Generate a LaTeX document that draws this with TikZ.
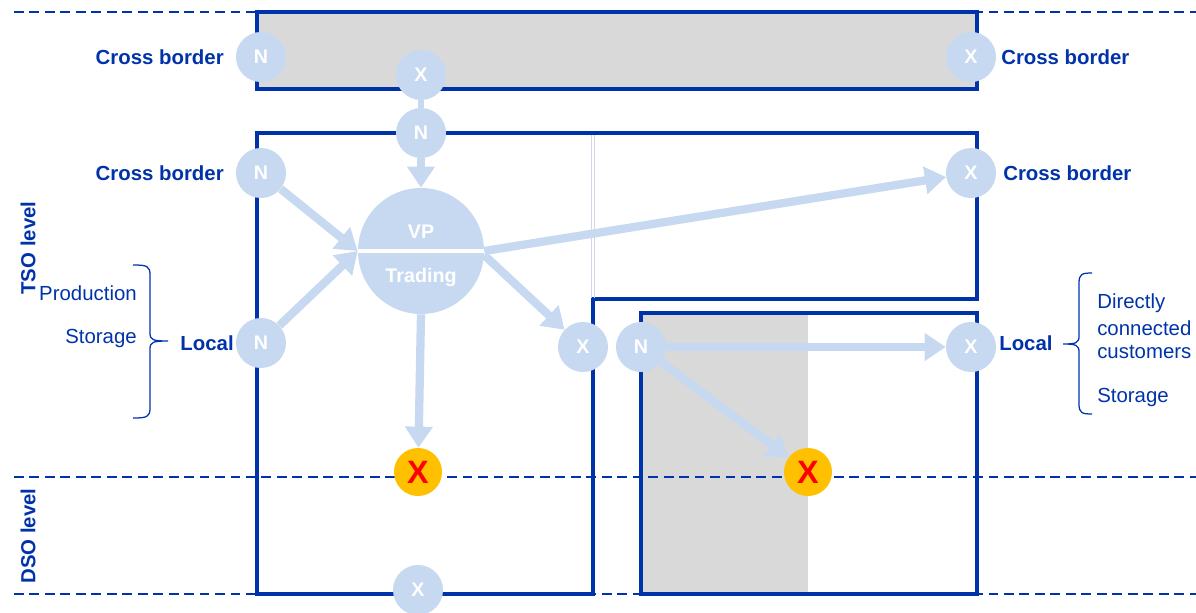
\documentclass[tikz,border=0pt]{standalone}
\usepackage{fontspec}
\setmainfont{Liberation Sans}
\usetikzlibrary{arrows.meta}
\definecolor{navy}{RGB}{0,51,170}
\definecolor{pale}{RGB}{198,217,240}
\definecolor{panel}{RGB}{217,217,217}
\definecolor{amber}{RGB}{255,192,0}
\definecolor{faint}{RGB}{205,214,236}
\begin{document}
\begin{tikzpicture}[x=0.025cm,y=-0.025cm,
  bubble/.style={circle, fill=pale, minimum size=1.25cm, inner sep=0pt, text=white,
                 font=\bfseries\fontsize{14}{14}\selectfont},
  hot/.style={circle, fill=amber, minimum size=1.2cm, inner sep=0pt, text=red,
              font=\bfseries\fontsize{23}{23}\selectfont},
  flow/.style={draw=pale, line width=5.9pt, -{Triangle[width=19pt,length=15pt]}},
  link/.style={draw=pale, line width=4.5pt},
  frame/.style={draw=navy, line width=2.3pt},
  level/.style={draw=navy, line width=1.1pt, dash pattern=on 7pt off 4pt},
  bracket/.style={draw=navy, line width=0.9pt},
  boldlbl/.style={text=navy, inner sep=0pt, font=\bfseries\fontsize{14.5}{17}\selectfont},
  plainlbl/.style={text=navy, inner sep=0pt, font=\fontsize{14.5}{17}\selectfont}]
\useasboundingbox (0,0) rectangle (1196,612);
\clip (0,0) rectangle (1196,612);

% shaded areas
\fill[panel] (257,12) rectangle (977,89);
\fill[panel] (641,313) rectangle (808,594);

% voltage level separators
\draw[level] (14,12) -- (1196,12);
\draw[level] (14,477) -- (1196,477);
\draw[level] (14,594) -- (1196,594);

% network area frames
\draw[frame] (257,12) rectangle (977,89);
\draw[frame] (257,133) -- (977,133) -- (977,299) -- (593,299) -- (593,594) -- (257,594) -- cycle;
\draw[frame] (977,313) -- (641,313) -- (641,594) -- (977,594) -- cycle;
\draw[faint, line width=0.6pt] (591,135) -- (591,298);
\draw[faint, line width=0.6pt] (594.5,135) -- (594.5,298);

% entry and exit points
\node[bubble] (nA) at (261,57) {N};
\node[bubble] (xA) at (971,57) {X};
\node[bubble] (xT) at (421,75) {X};
\node[bubble] (nT) at (421,133) {N};
\node[bubble] (nB) at (261,173) {N};
\node[bubble] (nL) at (261,343) {N};
\node[bubble] (xB) at (971,173) {X};
\node[bubble] (xM) at (583,347) {X};
\node[bubble] (nM) at (641,347) {N};
\node[bubble] (xL) at (971,347) {X};
\node[bubble] (xD) at (418,590) {X};
\node[hot] (o1) at (418,472) {X};
\node[hot] (o2) at (808,472) {X};

% virtual point
\node[circle, fill=pale, minimum size=3.15cm, inner sep=0pt] (vp) at (421,251) {};
\draw[white, line width=3pt] (vp.west) -- (vp.east);
\node[text=white, font=\bfseries\fontsize{14}{14}\selectfont] at (421,232) {VP};
\node[text=white, font=\bfseries\fontsize{14}{14}\selectfont] at (421,277) {Trading};

% flows
\draw[link] (xT) -- (nT);
\draw[flow] (nT) -- (vp.north);
\draw[flow] (nB) -- (vp.west);
\draw[flow] (nL) -- (vp.west);
\draw[flow] (vp.east) -- (xB);
\draw[flow] ([yshift=-3pt]vp.east) -- (xM);
\draw[flow] (vp.south) -- (o1);
\draw[flow] (nM) -- (xL);
\draw[flow] (nM) -- (o2);

% labels
\node[boldlbl, anchor=east] at (224,57) {Cross border};
\node[boldlbl, anchor=east] at (224,173) {Cross border};
\node[boldlbl, anchor=west] at (1001,57) {Cross border};
\node[boldlbl, anchor=west] at (1003,173) {Cross border};
\node[boldlbl, anchor=east] at (234,343) {Local};
\node[boldlbl, anchor=west] at (999,343) {Local};
\node[boldlbl, rotate=90] at (28,248) {TSO level};
\node[boldlbl, rotate=90] at (28,536) {DSO level};

\node[plainlbl, anchor=east] at (137,293) {Production};
\node[plainlbl, anchor=east] at (137,338) {Storage};
\node[plainlbl, anchor=west] at (1097,303) {Directly};
\node[plainlbl, anchor=west] at (1097,328) {connected};
\node[plainlbl, anchor=west] at (1097,352) {customers};
\node[plainlbl, anchor=west] at (1097,397) {Storage};

% grouping brackets
\draw[bracket] (133,265) .. controls (147,265) and (150,266) .. (150,275) -- (150,333)
  .. controls (150,340) and (153,341) .. (168,341)
  .. controls (153,341) and (150,342) .. (150,349) -- (150,408)
  .. controls (150,417) and (147,418) .. (133,418);
\draw[bracket] (1092,273) .. controls (1082,273) and (1079,274) .. (1079,283) -- (1079,336)
  .. controls (1079,343) and (1076,344) .. (1063,344)
  .. controls (1076,344) and (1079,345) .. (1079,352) -- (1079,404)
  .. controls (1079,413) and (1082,414) .. (1092,414);
\end{tikzpicture}
\end{document}
